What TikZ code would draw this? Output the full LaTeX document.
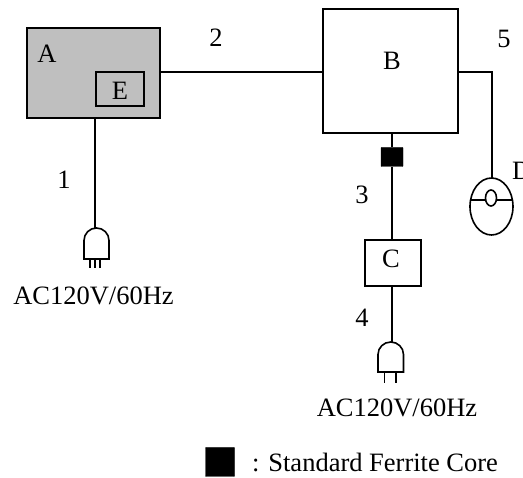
\documentclass[tikz,border=0pt]{standalone}
\usepackage{fontspec}
\setmainfont{Liberation Serif}
\usetikzlibrary{positioning, calc}
\tikzset{
  unitbox/.style={draw=black, line width=1.6pt, inner sep=0pt},
  cable/.style={draw=black, line width=1.6pt},
  lbl/.style={inner sep=0pt, font=\fontsize{26.5}{29}\selectfont},
  corebox/.style={fill=black, draw=black, inner sep=0pt, rounded corners=0.5pt}
}
\begin{document}
\begin{tikzpicture}[x=1pt, y=-1pt]
  \useasboundingbox (0,0) rectangle (523,478);
  % Units
  \node[unitbox, fill=black!25, minimum width=133pt, minimum height=90pt] (unitA) at (93.5,73) {};
  \node[unitbox, minimum width=48pt, minimum height=34pt] (unitE) at (120,89) {};
  \node[unitbox, minimum width=135pt, minimum height=124pt] (unitB) at (390.5,71) {};
  \node[unitbox, minimum width=56pt, minimum height=46pt] (unitC) at (393,263) {};
  % Ferrite core
  \node[corebox, minimum width=22pt, minimum height=19pt] (coreB) at (392,157) {};
  % Cable ends
  \coordinate (plugA) at (95,228);
  \coordinate (plugC) at (392,342);
  \coordinate (mouseTop) at (492,178);
  % Cables
  \draw[cable] (unitA.east |- 0,72) -- (unitB.west |- 0,72);
  \draw[cable] (unitA.south -| plugA) -- (plugA);
  \draw[cable] (unitB.south -| coreB) -- (coreB);
  \draw[cable] (coreB) -- (unitC.north -| coreB);
  \draw[cable] (unitC.south -| plugC) -- (plugC);
  \draw[cable] (unitB.east |- 0,72) -| (mouseTop);
  % Plug of A
  \draw[cable, fill=white] (84,259) -- (84,240.5) arc[start angle=180, end angle=360, x radius=12.5, y radius=12.5] -- (109,259) -- cycle;
  \draw[line width=1.1pt] (90,259) -- (90,268) (95,259) -- (95,268) (100,259) -- (100,268);
  % Plug of C
  \draw[cable, fill=white] (378,372) -- (378,354.5) arc[start angle=180, end angle=360, x radius=12.75, y radius=12.5] -- (403.5,372) -- cycle;
  \draw[line width=1.1pt] (384.5,372) -- (384.5,383) (396,372) -- (396,383);
  % Mouse
  \draw[cable] (491.5,206.5) ellipse[x radius=21.5, y radius=28.5];
  \draw[cable] (470.5,200) -- (512.5,200);
  \draw[cable, fill=white] (491,198) ellipse[x radius=5.5, y radius=8];
  % Labels
  \node[lbl] (lblA) at (47,54) {A};
  \node[lbl] (lblE) at (120,91) {E};
  \node[lbl] (lblB) at (392,61) {B};
  \node[lbl] (lblC) at (391,259) {C};
  \node[lbl, anchor=west] (lblD) at (512,171) {D};
  \node[lbl] (num1) at (64,180) {1};
  \node[lbl] (num2) at (216,38) {2};
  \node[lbl] (num3) at (362,195) {3};
  \node[lbl] (num4) at (362,318) {4};
  \node[lbl] (num5) at (504,39) {5};
  \node[lbl] (acA) at (93.5,296) {AC120V/60Hz};
  \node[lbl] (acC) at (397,408) {AC120V/60Hz};
  % Legend
  \node[corebox, minimum width=29pt, minimum height=29pt] (legCore) at (220,462) {};
  \node[lbl, anchor=west] (legText) at (252,462) {: Standard Ferrite Core};
\end{tikzpicture}
\end{document}
